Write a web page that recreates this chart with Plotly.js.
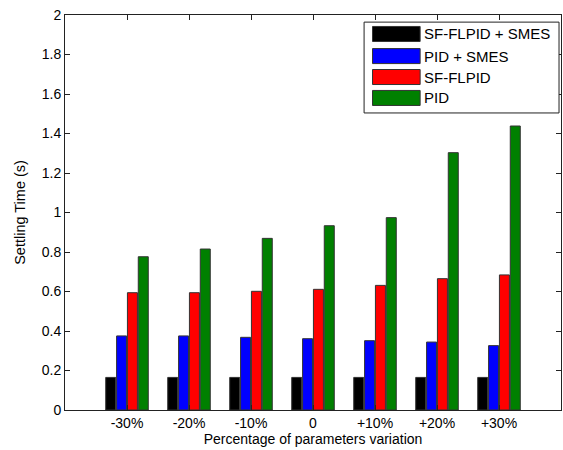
<!DOCTYPE html>
<html>
<head>
<meta charset="utf-8">
<script src="https://cdn.plot.ly/plotly-3.0.1.min.js"></script>
<style>html,body{margin:0;padding:0;background:#fff;}#chart{width:563px;height:450px;}</style>
</head>
<body>
<div id="chart"></div>
<script>
var categories = ["-30%", "-20%", "-10%", "0", "+10%", "+20%", "+30%"];
var seriesNames = ["SF-FLPID + SMES", "PID + SMES", "SF-FLPID", "PID"];
var seriesColors = ["#000000", "#0000ff", "#ff0000", "#008000"];
var sfflpidSmes = [0.165, 0.165, 0.165, 0.165, 0.165, 0.165, 0.165];
var pidSmes = [0.375, 0.375, 0.368, 0.361, 0.351, 0.344, 0.326];
var sfflpid = [0.594, 0.594, 0.601, 0.611, 0.631, 0.665, 0.684];
var pid = [0.776, 0.815, 0.869, 0.933, 0.974, 1.303, 1.438];
var yTicks = [0, 0.2, 0.4, 0.6, 0.8, 1, 1.2, 1.4, 1.6, 1.8, 2];

var seriesValues = [sfflpidSmes, pidSmes, sfflpid, pid];
var traces = seriesValues.map(function (vals, i) {
  return {
    type: "bar",
    x: categories,
    y: vals,
    name: seriesNames[i],
    marker: { color: seriesColors[i], line: { color: "#333", width: 1 } },
    showlegend: false,
    hoverinfo: "x+y+name"
  };
});

// custom MATLAB-style legend
var shapes = [{
  type: "rect", xref: "paper", yref: "paper",
  x0: 0.603, x1: 0.996, y0: 0.752, y1: 0.982,
  line: { color: "#222", width: 1 }, fillcolor: "#fff", layer: "above"
}];
var annotations = [];
var rowY = [0.952, 0.896, 0.843, 0.790];
seriesNames.forEach(function (n, i) {
  shapes.push({
    type: "rect", xref: "paper", yref: "paper",
    x0: 0.620, x1: 0.716, y0: rowY[i] - 0.019, y1: rowY[i] + 0.019,
    fillcolor: seriesColors[i], line: { color: "#333", width: 1 }, layer: "above"
  });
  annotations.push({
    xref: "paper", yref: "paper", x: 0.720, y: rowY[i],
    xanchor: "left", yanchor: "middle", showarrow: false,
    text: n, font: { family: "Liberation Sans, Arial, sans-serif", size: 15, color: "#000" }
  });
});

var layout = {
  width: 563, height: 450,
  margin: { l: 65, r: 2, t: 15, b: 40 },
  paper_bgcolor: "#fff", plot_bgcolor: "#fff",
  font: { family: "Liberation Sans, Arial, sans-serif", size: 14, color: "#000" },
  barmode: "group", bargap: 0.3, bargroupgap: 0.08,
  xaxis: {
    type: "category", range: [-1, 7],
    showline: true, linecolor: "#222", linewidth: 1, mirror: "ticks",
    ticks: "inside", ticklen: 5, tickcolor: "#222",
    showgrid: false, zeroline: false,
    tickfont: { size: 14 },
    title: { text: "Percentage of parameters variation", font: { size: 14 }, standoff: 3 }
  },
  yaxis: {
    range: [0, 2], tickvals: yTicks,
    showline: true, linecolor: "#222", linewidth: 1, mirror: "ticks",
    ticks: "inside", ticklen: 5, tickcolor: "#222",
    showgrid: false, zeroline: false,
    tickfont: { size: 14 },
    title: { text: "Settling Time (s)", font: { size: 14.5 }, standoff: 12 }
  },
  shapes: shapes,
  annotations: annotations,
  showlegend: false
};

Plotly.newPlot("chart", traces, layout, { displayModeBar: false, staticPlot: true });
</script>
</body>
</html>
